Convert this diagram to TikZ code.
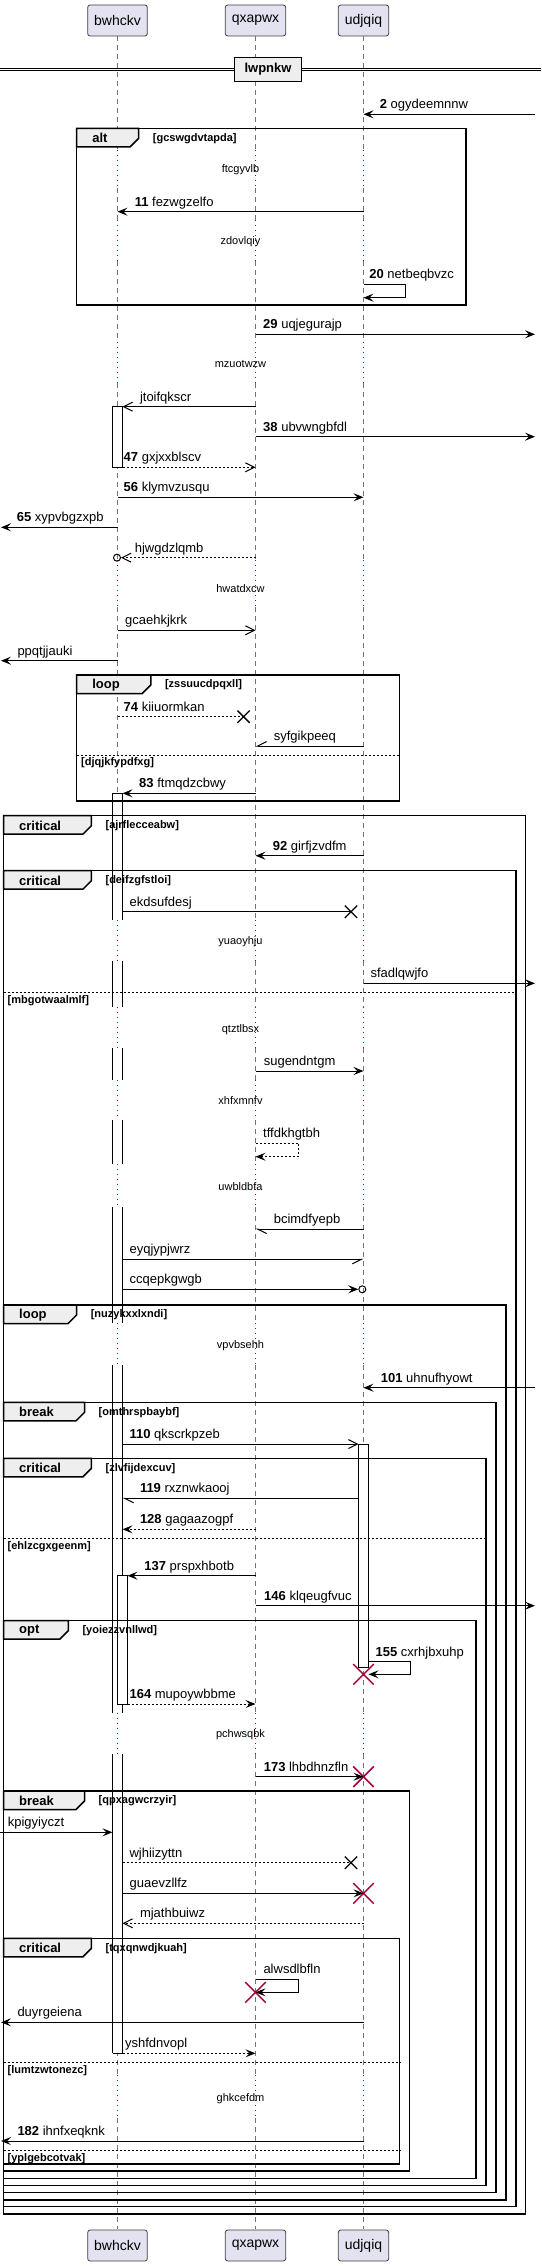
\documentclass[tikz,border=0pt]{standalone}
\usepackage{fontspec}
\setmainfont{Liberation Sans}
\usetikzlibrary{arrows.meta}
\usetikzlibrary{shapes.misc}
\definecolor{PartFill}{RGB}{226,226,240}
\definecolor{TabFill}{RGB}{238,238,238}
\definecolor{DelayRed}{RGB}{168,0,54}
\tikzset{
  part/.style={draw=black!75, fill=PartFill, rounded corners=2.5pt, line width=0.8pt,
    inner xsep=6.5pt, minimum height=31pt, font=\fontsize{14}{16}\selectfont},
  life/.style={draw=black!55, line width=0.8pt, dash pattern=on 5pt off 4pt},
  lifedot/.style={draw=DelayRed, line width=0.8pt, dash pattern=on 1pt off 4pt},
  actbar/.style={draw=black, line width=0.8pt},
  grp/.style={draw=black, line width=1.5pt},
  grptab/.style={draw=black, fill=TabFill, line width=1.5pt},
  tabtxt/.style={anchor=west, inner sep=0pt, font=\bfseries\fontsize{13}{15}\selectfont},
  grptxt/.style={anchor=west, inner sep=0pt, font=\bfseries\fontsize{11}{13}\selectfont},
  elseline/.style={draw=black, line width=0.8pt, dash pattern=on 2pt off 2pt},
  sepbox/.style={draw=black, fill=TabFill, line width=1.5pt, minimum width=67pt,
    minimum height=24pt, inner sep=0pt, font=\bfseries\fontsize{13}{15}\selectfont},
  msg/.style={line width=1pt, -{Stealth[length=10pt,width=8pt,inset=4pt]}},
  msgopen/.style={line width=1pt, -{Straight Barb[length=9pt,width=9pt]}},
  msghalfl/.style={line width=1pt, -{Straight Barb[length=9pt,width=9pt,harpoon,left]}},
  msghalfr/.style={line width=1pt, -{Straight Barb[length=9pt,width=9pt,harpoon,right]}},
  ret/.style={dash pattern=on 2pt off 2pt},
  lbl/.style={anchor=base west, inner sep=0pt, font=\fontsize{13}{15}\selectfont},
  delay/.style={inner sep=0pt, font=\fontsize{11}{13}\selectfont},
  killx/.style={draw=DelayRed, cross out, line width=1.5pt, minimum size=19pt, inner sep=0pt},
  lostx/.style={draw=black, cross out, line width=1.3pt, minimum size=11pt, inner sep=0pt},
  endo/.style={draw=black, circle, line width=1pt, minimum size=7pt, inner sep=0pt},
}

\begin{document}
\begin{tikzpicture}[x=1pt,y=-1pt]
  \useasboundingbox (0,0) rectangle (541,2266);

  % 参与者
  \node[part] (bwhckv) at (117.5,20.5) {bwhckv};
  \node[part] (qxapwx) at (255.5,20.5) {qxapwx};
  \node[part] (udjqiq) at (363.5,20.5) {udjqiq};
  \node[part] (bwhckvE) at (117.5,2245.5) {bwhckv};
  \node[part] (qxapwxE) at (255.5,2245.5) {qxapwx};
  \node[part] (udjqiqE) at (363.5,2245.5) {udjqiq};

  % 辅助坐标
  \coordinate (edge0) at (0,0);
  \coordinate (edgeL) at (1,0);
  \coordinate (edgeR) at (535,0);
  \coordinate (barL) at (112.5,0);
  \coordinate (barR) at (122.5,0);
  \coordinate (barN) at (127.5,0);
  \coordinate (barUL) at (358.5,0);
  \coordinate (barUR) at (368.5,0);

  % 生命线
  \foreach \p in {bwhckv,qxapwx,udjqiq} {
    \foreach \ya/\yb in {36/150,188/220,261/342,383/560,607/920,961/1007,1048/1080,
        1120/1164,1207/1323,1365/1712.7,1754.3/2075,2118/2229.3}
      \draw[life] (\p |- 0,\ya) -- (\p |- 0,\yb);
    \foreach \ya/\yb in {150/188,220/261,342/383,560/607,920/961,1007/1048,1080/1120,
        1164/1207,1323/1365,1712.7/1754.3,2075/2118}
      \draw[lifedot] (\p |- 0,\ya) -- (\p |- 0,\yb);
  }

  % 激活条
  \draw[actbar, fill=white] (barL |- 0,406.7) rectangle (barR |- 0,467.3);
  \foreach \ya/\yb in {793.3/920,961/1007,1048.3/1080,1120/1164,1206.7/1323.3,
      1365/1712.7,1754.3/2053.3} {
    \fill[white] (barL |- 0,\ya) rectangle (barR |- 0,\yb);
    \draw[actbar] (barL |- 0,\ya) -- (barL |- 0,\yb) (barR |- 0,\ya) -- (barR |- 0,\yb);
  }
  \draw[actbar] (barL |- 0,793.3) -- (barR |- 0,793.3);
  \draw[actbar] (barL |- 0,2053.3) -- (barR |- 0,2053.3);
  \draw[actbar, fill=white] (bwhckv |- 0,1575.7) rectangle (barN |- 0,1704);
  \draw[actbar, fill=white] (barUL |- 0,1444) rectangle (barUR |- 0,1667);

  % 分隔线
  \draw[line width=1pt] (0,68.3) -- (541,68.3) (0,71) -- (541,71);
  \node[sepbox] (lwpnkw) at (268,69.5) {lwpnkw};

  % 组合框
  \draw[grp] (76.6,128.3) rectangle (465.8,305);
  \draw[grptab] (76.6,128.3) -- (138.7,128.3) -- (138.7,138.3) -- (130.2,146.8) -- (76.6,146.8) -- cycle;
  \node[tabtxt] (altA) at (92.1,138.3) {alt};
  \node[grptxt] (altAc) at (152.7,138.3) {[gcswgdvtapda]};

  \draw[grp] (76.6,675) rectangle (399.6,801);
  \draw[grptab] (76.6,675) -- (150.8,675) -- (150.8,685) -- (142.3,693.5) -- (76.6,693.5) -- cycle;
  \node[tabtxt] (loopA) at (92.1,685) {loop};
  \node[grptxt] (loopAc) at (164.8,685) {[zssuucdpqxll]};
  \draw[elseline] (76.6,755) -- (399.6,755);
  \node[grptxt] (loopAe) at (81,763) {[djqjkfypdfxg]};

  \draw[grp] (3.5,815.7) rectangle (525.5,2214);
  \draw[grptab] (3.5,815.7) -- (91.4,815.7) -- (91.4,825.7) -- (82.9,834.2) -- (3.5,834.2) -- cycle;
  \node[tabtxt] (critA) at (19,825.7) {critical};
  \node[grptxt] (critAc) at (105.4,825.7) {[ajrflecceabw]};

  \draw[grp] (3.5,870.7) rectangle (515.9,2206.7);
  \draw[grptab] (3.5,870.7) -- (91.4,870.7) -- (91.4,880.7) -- (82.9,889.2) -- (3.5,889.2) -- cycle;
  \node[tabtxt] (critB) at (19,880.7) {critical};
  \node[grptxt] (critBc) at (105.4,880.7) {[deifzgfstloi]};
  \draw[elseline] (3.5,992.3) -- (515.9,992.3);
  \node[grptxt] (critBe) at (7.5,1000.3) {[mbgotwaalmlf]};

  \draw[grp] (3.5,1305) rectangle (506.2,2200);
  \draw[grptab] (3.5,1305) -- (76.6,1305) -- (76.6,1315) -- (68.1,1323.5) -- (3.5,1323.5) -- cycle;
  \node[tabtxt] (loopB) at (19,1315) {loop};
  \node[grptxt] (loopBc) at (90.6,1315) {[nuzykxxlxndi]};

  \draw[grp] (3.5,1402.3) rectangle (496.2,2192.7);
  \draw[grptab] (3.5,1402.3) -- (84.5,1402.3) -- (84.5,1412.3) -- (76,1420.8) -- (3.5,1420.8) -- cycle;
  \node[tabtxt] (brkA) at (19,1412.3) {break};
  \node[grptxt] (brkAc) at (98.5,1412.3) {[omthrspbaybf]};

  \draw[grp] (3.5,1458.3) rectangle (485.8,2185.7);
  \draw[grptab] (3.5,1458.3) -- (91.4,1458.3) -- (91.4,1468.3) -- (82.9,1476.8) -- (3.5,1476.8) -- cycle;
  \node[tabtxt] (critC) at (19,1468.3) {critical};
  \node[grptxt] (critCc) at (105.4,1468.3) {[zlvfijdexcuv]};
  \draw[elseline] (3.5,1538.3) -- (485.8,1538.3);
  \node[grptxt] (critCe) at (7.5,1546.3) {[ehlzcgxgeenm]};

  \draw[grp] (3.5,1620.7) rectangle (476.2,2178.3);
  \draw[grptab] (3.5,1620.7) -- (68.3,1620.7) -- (68.3,1630.7) -- (59.8,1639.2) -- (3.5,1639.2) -- cycle;
  \node[tabtxt] (optA) at (19,1630.7) {opt};
  \node[grptxt] (optAc) at (82.3,1630.7) {[yoiezzvnllwd]};

  \draw[grp] (3.5,1791) rectangle (409.6,2171);
  \draw[grptab] (3.5,1791) -- (84.5,1791) -- (84.5,1801) -- (76,1809.5) -- (3.5,1809.5) -- cycle;
  \node[tabtxt] (brkB) at (19,1801) {break};
  \node[grptxt] (brkBc) at (98.5,1801) {[qpxagwcrzyir]};

  \draw[grp] (3.5,1938.3) rectangle (399.6,2164);
  \draw[grptab] (3.5,1938.3) -- (91.4,1938.3) -- (91.4,1948.3) -- (82.9,1956.8) -- (3.5,1956.8) -- cycle;
  \node[tabtxt] (critD) at (19,1948.3) {critical};
  \node[grptxt] (critDc) at (105.4,1948.3) {[tqxqnwdjkuah]};
  \draw[elseline] (3.5,2062.3) -- (399.6,2062.3);
  \node[grptxt] (critDe) at (7.5,2070.3) {[lumtzwtonezc]};
  \draw[elseline] (3.5,2150.3) -- (399.6,2150.3);
  \node[grptxt] (critDf) at (7.5,2158.3) {[yplgebcotvak]};

  % 延迟
  \node[delay] (ftcgyvlb) at (240.5,169.3) {ftcgyvlb};
  \node[delay] (zdovlqiy) at (240.5,241.7) {zdovlqiy};
  \node[delay] (mzuotwzw) at (240.5,364.3) {mzuotwzw};
  \node[delay] (hwatdxcw) at (240.5,588.3) {hwatdxcw};
  \node[delay] (yuaoyhju) at (240.5,941.7) {yuaoyhju};
  \node[delay] (qtztlbsx) at (240.5,1029.3) {qtztlbsx};
  \node[delay] (xhfxmnfv) at (240.5,1101) {xhfxmnfv};
  \node[delay] (uwbldbfa) at (240.5,1186.7) {uwbldbfa};
  \node[delay] (vpvbsehh) at (240.5,1345.7) {vpvbsehh};
  \node[delay] (pchwsqbk) at (240.5,1735) {pchwsqbk};
  \node[delay] (ghkcefdm) at (240.5,2098.3) {ghkcefdm};

  % 终点标记
  \node[lostx] (xKii) at (243.6,716.7) {};
  \node[lostx] (xEkd) at (351,911.7) {};
  \node[lostx] (xWjh) at (351,1862.7) {};
  \node[killx] (kA) at (udjqiq |- 0,1674.3) {};
  \node[killx] (kB) at (udjqiq |- 0,1776.7) {};
  \node[killx] (kC) at (udjqiq |- 0,1893.3) {};
  \node[killx] (kD) at (qxapwx |- 0,1992.3) {};
  \node[endo] (oHjw) at (117,557.7) {};
  \node[endo] (oCcq) at (362.3,1289.3) {};

  % 消息
  \draw[msg] (edgeR |- 0,114.3) -- (udjqiq |- 0,114.3);
  \node[lbl] (ogydeemnnw) at (379.6,108.8) {\textbf{2} ogydeemnnw};
  \draw[msg] (udjqiq |- 0,211.7) -- (bwhckv |- 0,211.7);
  \node[lbl] (fezwgzelfo) at (134.6,206.2) {\textbf{11} fezwgzelfo};
  \draw[msg] (udjqiq |- 0,284.3) -- ++(42,0) -- ++(0,13.4) -- (udjqiq |- 0,297.7);
  \node[lbl] (netbeqbvzc) at (369.2,278.8) {\textbf{20} netbeqbvzc};
  \draw[msg] (qxapwx |- 0,334.3) -- (edgeR |- 0,334.3);
  \node[lbl] (uqjegurajp) at (263,328.8) {\textbf{29} uqjegurajp};
  \draw[msgopen] (qxapwx |- 0,406.7) -- (barR |- 0,406.7);
  \node[lbl] (jtoifqkscr) at (139.8,401.2) {jtoifqkscr};
  \draw[msg] (qxapwx |- 0,436.7) -- (edgeR |- 0,436.7);
  \node[lbl] (ubvwngbfdl) at (263,431.2) {\textbf{38} ubvwngbfdl};
  \draw[msgopen, ret] (barR |- 0,467.3) -- (qxapwx |- 0,467.3);
  \node[lbl] (gxjxxblscv) at (123.5,461.8) {\textbf{47} gxjxxblscv};
  \draw[msg] (bwhckv |- 0,497.3) -- (udjqiq |- 0,497.3);
  \node[lbl] (klymvzusqu) at (123.5,491.8) {\textbf{56} klymvzusqu};
  \draw[msg] (bwhckv |- 0,527.3) -- (edgeL |- 0,527.3);
  \node[lbl] (xypvbgzxpb) at (16.6,521.8) {\textbf{65} xypvbgzxpb};
  \draw[msgopen, ret] (qxapwx |- 0,557.7) -- (oHjw.east);
  \node[lbl] (hjwgdzlqmb) at (134.6,552.2) {hjwgdzlqmb};
  \draw[msgopen] (bwhckv |- 0,630.3) -- (qxapwx |- 0,630.3);
  \node[lbl] (gcaehkjkrk) at (124.9,624.8) {gcaehkjkrk};
  \draw[msg] (bwhckv |- 0,660.7) -- (edgeL |- 0,660.7);
  \node[lbl] (ppqtjjauki) at (17.3,655.2) {ppqtjjauki};
  \draw[line width=1pt, ret] (bwhckv |- 0,716.7) -- (xKii.center);
  \node[lbl] (kiiuormkan) at (123.5,711.2) {\textbf{74} kiiuormkan};
  \draw[msghalfr] (udjqiq |- 0,746) -- (qxapwx |- 0,746);
  \node[lbl] (syfgikpeeq) at (273.6,740.5) {syfgikpeeq};
  \draw[msg] (qxapwx |- 0,793.3) -- (barR |- 0,793.3);
  \node[lbl] (ftmqdzcbwy) at (139,787.8) {\textbf{83} ftmqdzcbwy};
  \draw[msg] (udjqiq |- 0,855.7) -- (qxapwx |- 0,855.7);
  \node[lbl] (girfjzvdfm) at (272.6,850.2) {\textbf{92} girfjzvdfm};
  \draw[line width=1pt] (barR |- 0,911.7) -- (xEkd.center);
  \node[lbl] (ekdsufdesj) at (129.4,906.2) {ekdsufdesj};
  \draw[msg] (udjqiq |- 0,983.3) -- (edgeR |- 0,983.3);
  \node[lbl] (sfadlqwjfo) at (370.3,977.8) {sfadlqwjfo};
  \draw[msg] (qxapwx |- 0,1071) -- (udjqiq |- 0,1071);
  \node[lbl] (sugendntgm) at (263.6,1065.5) {sugendntgm};
  \draw[msg, ret] (qxapwx |- 0,1143.3) -- ++(43,0) -- ++(0,13.4) -- (qxapwx |- 0,1156.7);
  \node[lbl] (tffdkhgtbh) at (263,1137.8) {tffdkhgtbh};
  \draw[msghalfl] (udjqiq |- 0,1229) -- (qxapwx |- 0,1229);
  \node[lbl] (bcimdfyepb) at (273.6,1223.5) {bcimdfyepb};
  \draw[msghalfr] (barR |- 0,1259.3) -- (udjqiq |- 0,1259.3);
  \node[lbl] (eyqjypjwrz) at (129.4,1253.8) {eyqjypjwrz};
  \draw[msg] (barR |- 0,1289.3) -- (oCcq.west);
  \node[lbl] (ccqepkgwgb) at (129.4,1283.8) {ccqepkgwgb};
  \draw[msg] (edgeR |- 0,1387.7) -- (udjqiq |- 0,1387.7);
  \node[lbl] (uhnufhyowt) at (380.6,1382.2) {\textbf{101} uhnufhyowt};
  \draw[msgopen] (barR |- 0,1444) -- (barUL |- 0,1444);
  \node[lbl] (qkscrkpzeb) at (129.4,1438.5) {\textbf{110} qkscrkpzeb};
  \draw[msghalfl] (barUL |- 0,1498.3) -- (barR |- 0,1498.3);
  \node[lbl] (rxznwkaooj) at (139.8,1492.8) {\textbf{119} rxznwkaooj};
  \draw[msg, ret] (qxapwx |- 0,1529.3) -- (barR |- 0,1529.3);
  \node[lbl] (gagaazogpf) at (139.8,1523.8) {\textbf{128} gagaazogpf};
  \draw[msg] (qxapwx |- 0,1575.7) -- (barN |- 0,1575.7);
  \node[lbl] (prspxhbotb) at (144.2,1570.2) {\textbf{137} prspxhbotb};
  \draw[msg] (qxapwx |- 0,1605.7) -- (edgeR |- 0,1605.7);
  \node[lbl] (klqeugfvuc) at (264,1600.2) {\textbf{146} klqeugfvuc};
  \draw[msg] (barUR |- 0,1661.7) -- ++(42,0) -- ++(0,12.6) -- (barUR |- 0,1674.3);
  \node[lbl] (cxrhjbxuhp) at (375.4,1656.2) {\textbf{155} cxrhjbxuhp};
  \draw[msg, ret] (barN |- 0,1704) -- (qxapwx |- 0,1704);
  \node[lbl] (mupoywbbme) at (129.4,1698.5) {\textbf{164} mupoywbbme};
  \draw[msg] (qxapwx |- 0,1776.7) -- (kB.center);
  \node[lbl] (lhbdhnzfln) at (263.6,1771.2) {\textbf{173} lhbdhnzfln};
  \draw[msg] (edge0 |- 0,1832.3) -- (barL |- 0,1832.3);
  \node[lbl] (kpigyiyczt) at (7.6,1826.8) {kpigyiyczt};
  \draw[line width=1pt, ret] (barR |- 0,1862.7) -- (xWjh.center);
  \node[lbl] (wjhiizyttn) at (129.4,1857.2) {wjhiizyttn};
  \draw[msg] (barR |- 0,1893.3) -- (kC.center);
  \node[lbl] (guaevzllfz) at (129.4,1887.8) {guaevzllfz};
  \draw[msgopen, ret] (udjqiq |- 0,1923.3) -- (barR |- 0,1923.3);
  \node[lbl] (mjathbuiwz) at (139.8,1917.8) {mjathbuiwz};
  \draw[msg] (qxapwx |- 0,1979.3) -- ++(43,0) -- ++(0,13) -- (kD.center);
  \node[lbl] (alwsdlbfln) at (263.3,1973.8) {alwsdlbfln};
  \draw[msg] (udjqiq |- 0,2022.3) -- (edgeL |- 0,2022.3);
  \node[lbl] (duyrgeiena) at (17.3,2016.8) {duyrgeiena};
  \draw[msg, ret] (barR |- 0,2053.3) -- (qxapwx |- 0,2053.3);
  \node[lbl] (yshfdnvopl) at (124.9,2047.8) {yshfdnvopl};
  \draw[msg] (udjqiq |- 0,2141) -- (edgeL |- 0,2141);
  \node[lbl] (ihnfxeqknk) at (17.3,2135.5) {\textbf{182} ihnfxeqknk};
\end{tikzpicture}
\end{document}
